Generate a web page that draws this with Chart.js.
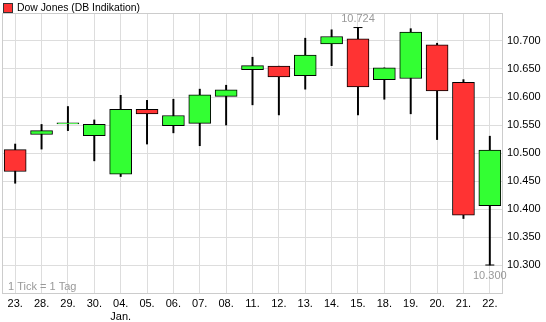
<!DOCTYPE html>
<html><head><meta charset="utf-8">
<script src="https://cdn.jsdelivr.net/npm/chart.js@4/dist/chart.umd.min.js"></script>
<style>html,body{margin:0;padding:0;background:#fff}#wrap{width:546px;height:322px}</style>
</head><body><div id="wrap"><canvas id="c" width="546" height="322"></canvas></div>
<script>
const seriesName = 'Dow Jones (DB Indikation)';
const dayLabels = ['23.','28.','29.','30.','04.','05.','06.','07.','08.','11.','12.','13.','14.','15.','18.','19.','20.','21.','22.'];
const monthLabels = ['','','','','Jan.','','','','','','','','','','','','','',''];
const opens  = [10506,10533,10552,10531,10462,10578,10549,10553,10601,10649,10655,10638,10695,10704,10631,10633,10693,10626,10406];
const highs  = [10516,10551,10583,10559,10603,10594,10596,10614,10621,10671,10655,10705,10720,10724,10652,10722,10696,10631,10530];
const lows   = [10446,10507,10540,10486,10458,10516,10536,10513,10550,10586,10568,10614,10656,10568,10596,10570,10524,10383,10300];
const closes = [10467,10540,10554,10551,10578,10570,10567,10604,10613,10656,10636,10675,10708,10618,10652,10716,10611,10389,10505];
const yMin = 10250, yMax = 10750, yStep = 50;
const footNote = '1 Tick = 1 Tag';

const UP = '#33FF33', DOWN = '#FF3333', GRID = '#DDDDDD', FRAME = '#CCCCCC', GREY = '#999999';
const FONT = '"Liberation Sans", Arial, Helvetica, sans-serif';

function fmt(v){ return String(Math.round(v)).replace(/\B(?=(\d{3})+(?!\d))/g,'.'); }

const maxIdx = highs.indexOf(Math.max(...highs));
const minIdx = lows.indexOf(Math.min(...lows));
const extremes = dayLabels.map((_,i)=> i===maxIdx ? highs[i] : (i===minIdx ? lows[i] : null));

Chart.defaults.font.family = FONT;
Chart.defaults.font.size = 11;
Chart.defaults.color = '#000';

const decor = {
  id: 'decor',
  beforeDatasetsDraw(chart){
    const {ctx, chartArea:a} = chart;
    ctx.save();
    ctx.strokeStyle = FRAME; ctx.lineWidth = 1;
    ctx.strokeRect(Math.round(a.left)+0.5, Math.round(a.top)+0.5, Math.round(a.right-a.left)-1, Math.round(a.bottom-a.top));
    ctx.restore();
  },
  afterDraw(chart){
    const {ctx, chartArea:a, scales} = chart;
    ctx.save();
    // legend
    ctx.fillStyle = DOWN; ctx.fillRect(3,3,10,10);
    ctx.strokeStyle = '#333'; ctx.lineWidth = 1; ctx.strokeRect(3.5,3.5,9,9);
    ctx.fillStyle = '#000'; ctx.font = '10.4px ' + FONT; ctx.textBaseline = 'middle'; ctx.textAlign = 'left';
    ctx.fillText(seriesName, 17, 8);
    // footnote
    ctx.font = '11px ' + FONT;
    ctx.fillStyle = GREY;
    ctx.fillText(footNote, a.left + 6, a.bottom - 6);
    // extreme labels
    ctx.textAlign = 'center';
    const xs = scales.x, ys = scales.y;
    ctx.fillText(fmt(highs[maxIdx]), xs.getPixelForValue(maxIdx), ys.getPixelForValue(highs[maxIdx]) - 9);
    ctx.fillText(fmt(lows[minIdx]), xs.getPixelForValue(minIdx), ys.getPixelForValue(lows[minIdx]) + 11);
    ctx.restore();
  }
};

new Chart(document.getElementById('c'), {
  type: 'bar',
  data: {
    labels: dayLabels.map((d,i)=> monthLabels[i] ? [d, monthLabels[i]] : d),
    datasets: [
      {
        type: 'bar', label: seriesName,
        data: opens.map((o,i)=>[o, closes[i]]),
        backgroundColor: opens.map((o,i)=> closes[i] >= o ? UP : DOWN),
        borderColor: '#000', borderWidth: 1, borderSkipped: false,
        barThickness: 22, grouped: false, order: 1
      },
      {
        type: 'bar', label: 'range',
        data: lows.map((l,i)=>[l, highs[i]]),
        backgroundColor: '#000', borderWidth: 0,
        barThickness: 1.3, grouped: false, order: 2
      },
      {
        type: 'line', label: 'extremes',
        data: extremes, showLine: false,
        pointStyle: 'line', pointRadius: 4.5, pointHoverRadius: 4.5,
        borderColor: '#000', pointBorderWidth: 1, order: 0
      }
    ]
  },
  options: {
    responsive: false, animation: false, events: [],
    layout: { autoPadding: false, padding: { left: 2, top: 13, right: 0, bottom: 0 } },
    plugins: { legend: { display: false }, tooltip: { enabled: false } },
    scales: {
      x: {
        type: 'category', offset: true,
        grid: { color: GRID, offset: false, drawTicks: false },
        border: { display: false },
        ticks: { color: '#000', padding: 4, maxRotation: 0, autoSkip: false, font: { size: 11 } },
        afterFit(s){ s.height = 29; s.paddingLeft = 0; s.paddingRight = 0; }
      },
      y: {
        position: 'right', min: yMin, max: yMax,
        grid: { color: GRID, drawTicks: false },
        border: { display: false },
        ticks: {
          stepSize: yStep, padding: 4, color: '#000', font: { size: 11 },
          callback: (v)=> (v <= yMin || v >= yMax) ? '' : fmt(v)
        },
        afterFit(s){ s.width = 43; s.paddingTop = 0; s.paddingBottom = 0; }
      }
    }
  },
  plugins: [decor]
});
</script>
</body></html>
